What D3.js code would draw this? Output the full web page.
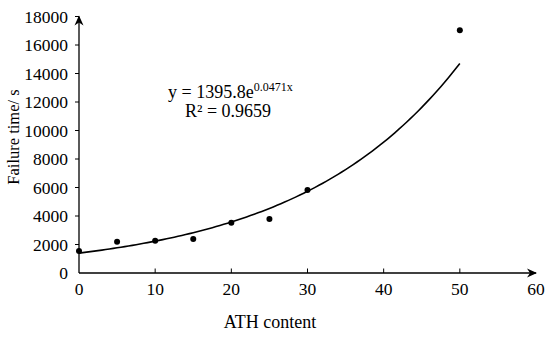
<!DOCTYPE html>
<html lang="en">
<head>
<meta charset="UTF-8">
<title>Failure time vs ATH content</title>
<script src="https://d3js.org/d3.v7.min.js"></script>
<style>
    body { margin: 0; padding: 0; background: #fff; }
    svg { display: block; font-family: "Liberation Serif", "Times New Roman", serif; }
    .tick-label { font-size: 17.5px; fill: #000; }
    .axis-title { font-size: 18px; fill: #000; }
    .eq { font-size: 18px; fill: #000; }
</style>
</head>
<body>
<svg width="550" height="337"></svg>
<script>
    // measured points
    const athContent = [0, 5, 10, 15, 20, 25, 30, 50];
    const failureTime = [1550, 2200, 2270, 2390, 3530, 3790, 5820, 17030];

    // exponential fit shown on the chart
    const fitA = 1395.8;
    const fitB = 0.0471;

    const xTicks = [0, 10, 20, 30, 40, 50, 60];
    const yTicks = [0, 2000, 4000, 6000, 8000, 10000, 12000, 14000, 16000, 18000];

    const svg = d3.select("svg");

    const x = d3.scaleLinear().domain([0, 60]).range([79, 536]);
    const y = d3.scaleLinear().domain([0, 18000]).range([273, 16.5]);

    // axes lines
    svg.append("line")
        .attr("x1", x(0)).attr("y1", y(0))
        .attr("x2", x(60)).attr("y2", y(0))
        .attr("stroke", "#000").attr("stroke-width", 1.3);
    svg.append("line")
        .attr("x1", x(0)).attr("y1", y(0))
        .attr("x2", x(0)).attr("y2", y(18000))
        .attr("stroke", "#000").attr("stroke-width", 1.3);

    // arrow heads
    svg.append("path")
        .attr("d", `M${x(60) + 1},${y(0)} L${x(60) - 9},${y(0) - 4.5} L${x(60) - 6},${y(0)} L${x(60) - 9},${y(0) + 4.5} Z`)
        .attr("fill", "#000");
    svg.append("path")
        .attr("d", `M${x(0)},${y(18000) - 1} L${x(0) - 4.5},${y(18000) + 9} L${x(0)},${y(18000) + 6} L${x(0) + 4.5},${y(18000) + 9} Z`)
        .attr("fill", "#000");

    // x ticks (inward)
    svg.selectAll(".xtick")
        .data(xTicks.filter(d => d > 0 && d < 60))
        .enter().append("line")
        .attr("x1", d => x(d)).attr("x2", d => x(d))
        .attr("y1", y(0)).attr("y2", y(0) - 4.5)
        .attr("stroke", "#000").attr("stroke-width", 1);

    svg.selectAll(".xlab")
        .data(xTicks)
        .enter().append("text")
        .attr("class", "tick-label")
        .attr("x", d => x(d))
        .attr("y", 295)
        .attr("text-anchor", "middle")
        .text(d => d);

    // y ticks (outward)
    svg.selectAll(".ytick")
        .data(yTicks.filter(d => d > 0))
        .enter().append("line")
        .attr("x1", x(0) - 4).attr("x2", x(0))
        .attr("y1", d => y(d)).attr("y2", d => y(d))
        .attr("stroke", "#000").attr("stroke-width", 1);

    svg.selectAll(".ylab")
        .data(yTicks)
        .enter().append("text")
        .attr("class", "tick-label")
        .attr("x", 68)
        .attr("y", d => y(d) + 6)
        .attr("text-anchor", "end")
        .text(d => d);

    // axis titles
    svg.append("text")
        .attr("class", "axis-title")
        .attr("x", 270)
        .attr("y", 328)
        .attr("text-anchor", "middle")
        .text("ATH content");

    svg.append("text")
        .attr("class", "axis-title")
        .attr("font-size", "16.5px")
        .style("font-size", "16.5px")
        .attr("transform", "translate(19,137) rotate(-90)")
        .attr("text-anchor", "middle")
        .text("Failure time/ s");

    // trend line
    const fitXs = d3.range(0, 50.01, 0.5);
    const line = d3.line()
        .x(d => x(d))
        .y(d => y(fitA * Math.exp(fitB * d)));
    svg.append("path")
        .datum(fitXs)
        .attr("d", line)
        .attr("fill", "none")
        .attr("stroke", "#000")
        .attr("stroke-width", 1.6);

    // points
    svg.selectAll(".pt")
        .data(athContent)
        .enter().append("circle")
        .attr("cx", d => x(d))
        .attr("cy", (d, i) => y(failureTime[i]))
        .attr("r", 3)
        .attr("fill", "#000");

    // equation
    const eq = svg.append("text")
        .attr("class", "eq")
        .attr("x", 168)
        .attr("y", 98);
    eq.append("tspan").text("y = " + fitA + "e");
    eq.append("tspan")
        .attr("dy", -7)
        .attr("font-size", "12px")
        .text(fitB + "x");

    svg.append("text")
        .attr("class", "eq")
        .attr("x", 185)
        .attr("y", 117)
        .text("R² = 0.9659");
</script>
</body>
</html>
